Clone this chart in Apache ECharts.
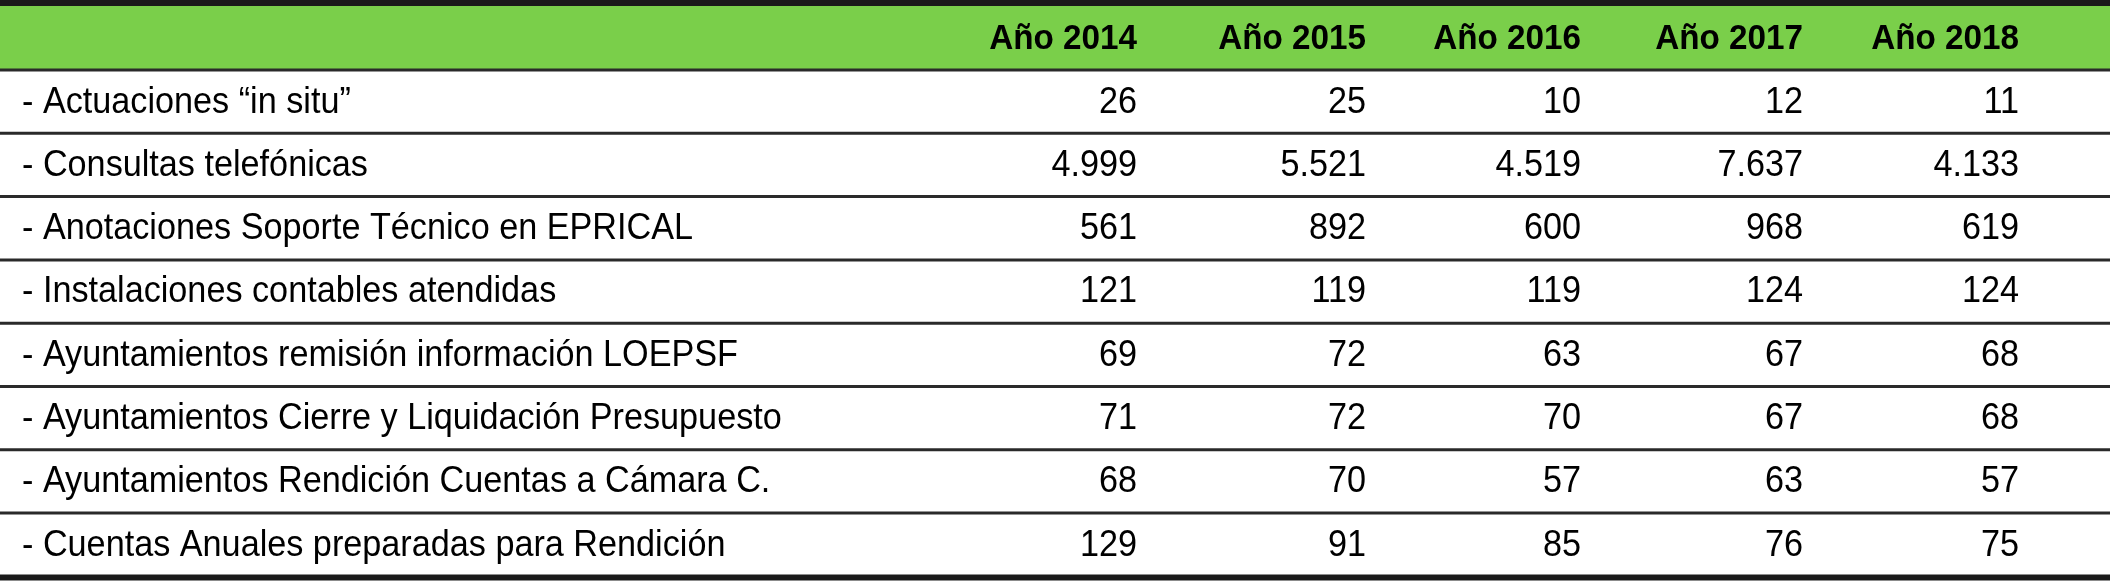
<!DOCTYPE html>
<html><head><meta charset="utf-8">
<script src="https://cdn.jsdelivr.net/npm/echarts@6/dist/echarts.min.js"></script>
<style>html,body{margin:0;padding:0;background:#fff}#c{width:2110px;height:583px}</style>
</head><body><div id="c"></div>
<script>
const years = ['Año 2014','Año 2015','Año 2016','Año 2017','Año 2018'];
const rowLabels = ['- Actuaciones “in situ”','- Consultas telefónicas','- Anotaciones Soporte Técnico en EPRICAL','- Instalaciones contables atendidas','- Ayuntamientos remisión información LOEPSF','- Ayuntamientos Cierre y Liquidación Presupuesto','- Ayuntamientos Rendición Cuentas a Cámara C.','- Cuentas Anuales preparadas para Rendición'];
const y2014 = ['26','4.999','561','121','69','71','68','129'];
const y2015 = ['25','5.521','892','119','72','72','70','91'];
const y2016 = ['10','4.519','600','119','63','70','57','85'];
const y2017 = ['12','7.637','968','124','67','67','63','76'];
const y2018 = ['11','4.133','619','124','68','68','57','75'];
const cols = [y2014,y2015,y2016,y2017,y2018];

const font = '"Liberation Sans",Arial,sans-serif';
const colRight = [1137,1366,1581,1803,2019];
const headTop = 6, headBot = 70, rowH = 63.3;
const sx = 0.95;
const els = [];
els.push({type:'rect',shape:{x:0,y:0,width:2110,height:6},style:{fill:'#1a1a1a'}});
els.push({type:'rect',shape:{x:0,y:headTop,width:2110,height:headBot-headTop},style:{fill:'#7ACF4A'}});
years.forEach((t,i)=>els.push({type:'text',x:colRight[i],y:(headTop+headBot)/2+1,scaleX:sx,style:{text:t,font:'bold 35px '+font,fill:'#000',align:'right',verticalAlign:'middle'}}));
rowLabels.forEach((lab,r)=>{
  const top = headBot + r*rowH;
  els.push({type:'rect',shape:{x:0,y:top-1.5,width:2110,height:3},style:{fill:'#2a2a2a'}});
  const cy = top + rowH/2 + 1;
  els.push({type:'text',x:22,y:cy,scaleX:sx,style:{text:lab,font:'36px '+font,fill:'#000',align:'left',verticalAlign:'middle'}});
  cols.forEach((c,i)=>els.push({type:'text',x:colRight[i],y:cy,scaleX:sx,style:{text:c[r],font:'36px '+font,fill:'#000',align:'right',verticalAlign:'middle'}}));
});
const bot = headBot + rowLabels.length*rowH;
els.push({type:'rect',shape:{x:0,y:bot-2,width:2110,height:6},style:{fill:'#1a1a1a'}});
const chart = echarts.init(document.getElementById('c'));
chart.setOption({animation:false,graphic:{elements:els}});
</script></body></html>
